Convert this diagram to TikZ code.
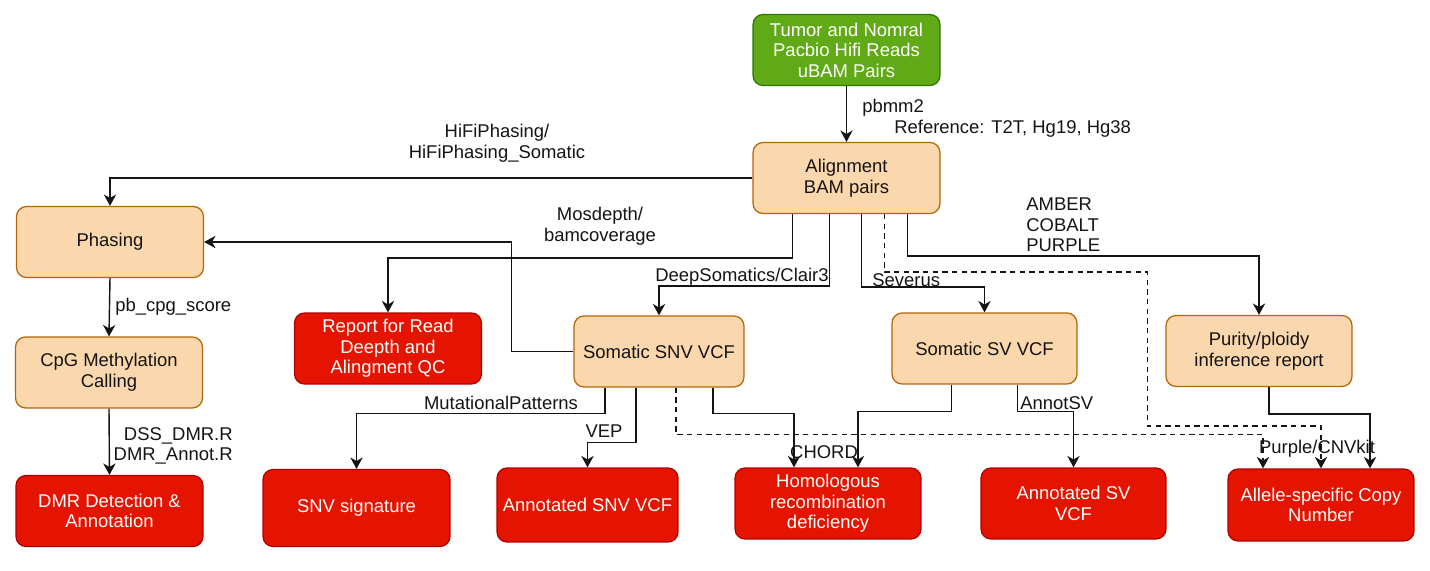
\documentclass[tikz,border=0pt]{standalone}
\usepackage{fontspec}
\setmainfont{Liberation Sans}
\usepackage{xcolor}
\usepackage{tikz}
\usetikzlibrary{positioning, arrows.meta, calc}
\definecolor{WFGreen}{RGB}{96,169,23}
\definecolor{WFGreenEdge}{RGB}{45,118,0}
\definecolor{WFOrange}{RGB}{250,215,172}
\definecolor{WFOrangeEdge}{RGB}{180,101,4}
\definecolor{WFRed}{RGB}{229,20,0}
\definecolor{WFRedEdge}{RGB}{178,0,0}
\definecolor{WFInk}{RGB}{20,20,20}

\begin{document}
\begin{tikzpicture}[x=0.02cm, y=-0.02cm, font=\fontsize{10.5}{11.7}\selectfont,
    box/.style={rounded corners=0.2cm, line width=0.7pt, align=center,
                minimum width=3.74cm, minimum height=1.42cm, inner sep=2pt},
    innode/.style={box, fill=WFGreen, draw=WFGreenEdge, text=white},
    stepnode/.style={box, fill=WFOrange, draw=WFOrangeEdge, text=WFInk},
    outnode/.style={box, fill=WFRed, draw=WFRedEdge, text=white},
    flow/.style={WFInk, line width=0.8pt,
                 -{Stealth[length=6.5pt, width=7pt, inset=2pt]}},
    maybe/.style={flow, dash pattern=on 3pt off 2.5pt},
    tool/.style={WFInk, inner sep=0pt, align=center}]
  \useasboundingbox (0,0) rectangle (1430,571);

  % ---- Input and alignment ----
  \node[innode] (input) at (846.5, 50) {Tumor and Nomral\\Pacbio Hifi Reads\\uBAM Pairs};
  \node[stepnode] (align) at (846.5, 178) {Alignment\\BAM pairs};

  % ---- Intermediate results ----
  \node[stepnode] (phasing) at (110, 242) {Phasing};
  \node[stepnode] (cpg) at (109, 372.5) {CpG Methylation\\Calling};
  \node[stepnode, minimum width=3.4cm] (snvvcf) at (659, 351.5) {Somatic SNV VCF};
  \node[stepnode, minimum width=3.7cm] (svvcf) at (984.5, 348.5) {Somatic SV VCF};
  \node[stepnode, minimum width=3.72cm] (purity) at (1259, 351) {Purity/ploidy\\inference report};

  % ---- Final outputs ----
  \node[outnode] (report) at (388, 348.5) {Report for Read\\Deepth and\\Alingment QC};
  \node[outnode] (dmr) at (109.5, 511) {DMR Detection \&\\Annotation};
  \node[outnode, minimum height=1.54cm] (snvsig) at (356.5, 508) {SNV signature};
  \node[outnode, minimum width=3.62cm, minimum height=1.48cm] (annsnv) at (587.5, 505) {Annotated SNV VCF};
  \node[outnode, minimum width=3.72cm] (hrd) at (828, 503.5) {Homologous\\recombination\\deficiency};
  \node[outnode, minimum width=3.7cm] (annsv) at (1073.5, 503.5) {Annotated SV\\VCF};
  \node[outnode, minimum width=3.72cm, minimum height=1.44cm] (ascn) at (1321, 505) {Allele-specific Copy\\Number};

  % ---- Connectors ----
  \draw[flow] (input.south) -- (align.north);
  \draw[flow] (align.west) -| (phasing.north);
  \draw[flow] ($(align.south)+(-54,0)$) -- ++(0,44) -| (report.north);
  \draw[flow] ($(align.south)+(-17,0)$) -- ++(0,72) -| (snvvcf.north);
  \draw[flow] ($(align.south)+(15,0)$) -- ++(0,73) -| (svvcf.north);
  \draw[flow] ($(align.south)+(61,0)$) -- ++(0,42) -| (purity.north);
  \draw[maybe] ($(align.south)+(38,0)$) -- ++(0,58) -- ++(263,0) -- ++(0,154) -| (ascn.north);
  \draw[flow] (snvvcf.west) -- ++(-62,0) |- (phasing.east);
  \draw[flow] (phasing.south) -- (cpg.north);
  \draw[flow] (cpg.south) -- (dmr.north);
  \draw[flow] ($(snvvcf.south)+(-54,0)$) -- ++(0,26) -| (snvsig.north);
  \draw[flow] ($(snvvcf.south)+(-23,0)$) -- ++(0,55) -| (annsnv.north);
  \draw[flow] ($(snvvcf.south)+(54,0)$) -- ++(0,26) -| ($(hrd.north)+(-34,0)$);
  \draw[maybe] ($(snvvcf.south)+(17,0)$) -- ++(0,47) -| ($(ascn.north)+(-58,0)$);
  \draw[flow] ($(svvcf.south)+(-33,0)$) -- ++(0,27) -| ($(hrd.north)+(30,0)$);
  \draw[flow] ($(svvcf.south)+(33,0)$) -- ++(0,27) -| (annsv.north);
  \draw[flow] ($(purity.south)+(10,0)$) -- ++(0,27) -| ($(ascn.north)+(49,0)$);

  % ---- Tool labels ----
  \node[tool, anchor=west] (tpbmm) at (862, 108) {pbmm2};
  \node[tool, anchor=west] (tref) at (894, 129) {Reference: T2T, Hg19, Hg38};
  \node[tool] (thifi) at (497, 143) {HiFiPhasing/\\HiFiPhasing\_Somatic};
  \node[tool] (tmosd) at (600, 226) {Mosdepth/\\bamcoverage};
  \node[tool, anchor=east] (tdeep) at (829, 277) {DeepSomatics/Clair3};
  \node[tool, anchor=west] (tsev) at (872, 280) {Severus};
  \node[tool, anchor=west, align=left] (tamber) at (1026, 225) {AMBER\\COBALT\\PURPLE};
  \node[tool, anchor=west] (tcpg) at (115, 307) {pb\_cpg\_score};
  \node[tool, anchor=east, align=right] (tdss) at (233, 446) {DSS\_DMR.R\\DMR\_Annot.R};
  \node[tool] (tmut) at (501, 403) {MutationalPatterns};
  \node[tool] (tvep) at (604, 431) {VEP};
  \node[tool] (tchord) at (824, 452) {CHORD};
  \node[tool, anchor=west] (tannsv) at (1020, 403) {AnnotSV};
  \node[tool] (tcnv) at (1317, 449) {Purple/CNVkit};
\end{tikzpicture}
\end{document}
